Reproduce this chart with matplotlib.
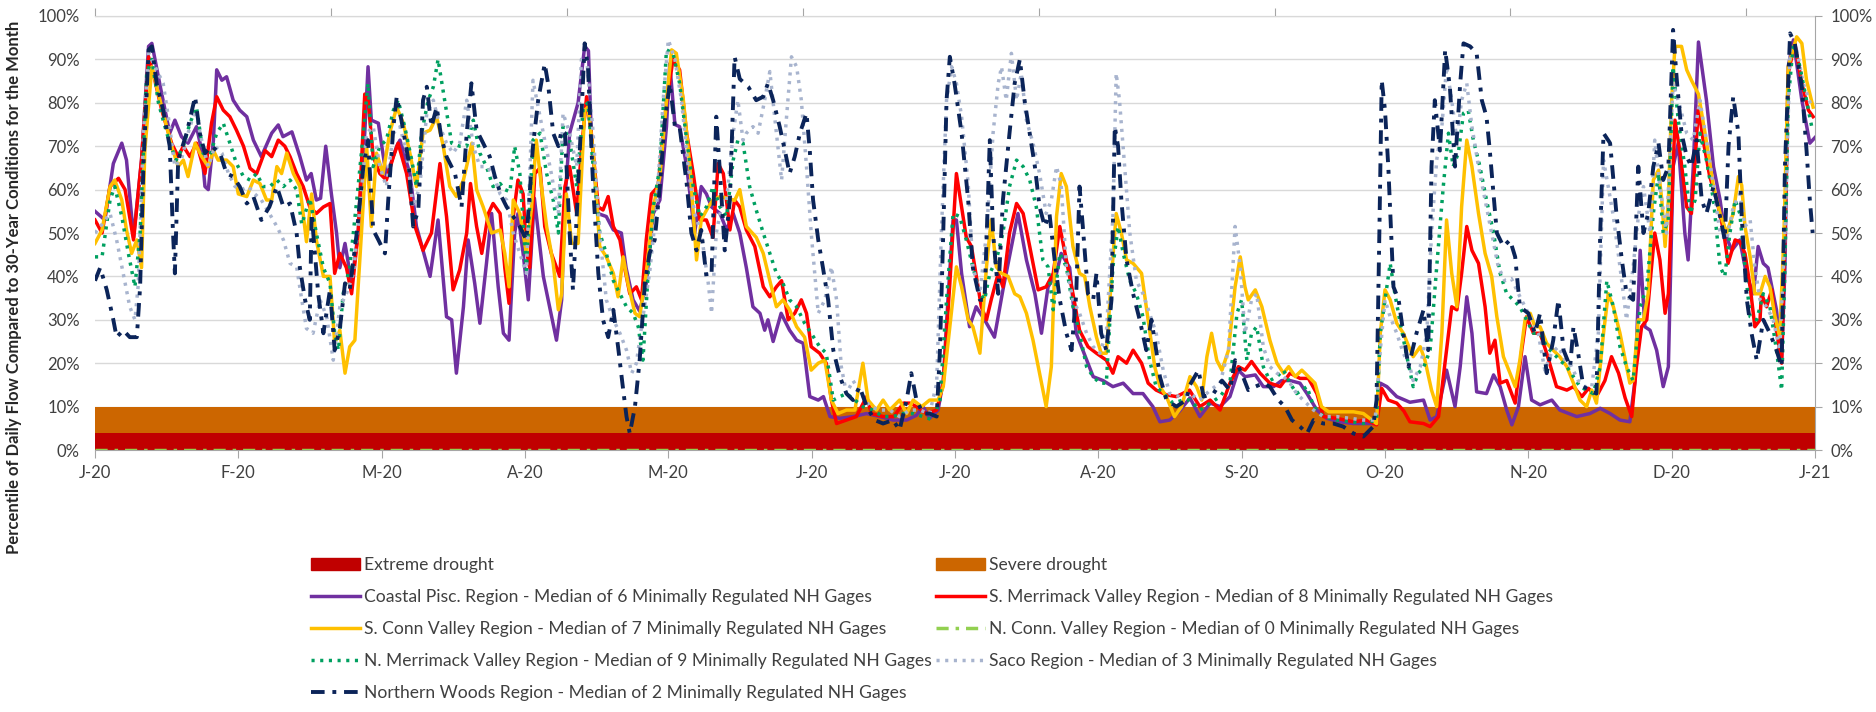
import numpy as np
import matplotlib.pyplot as plt
from matplotlib.lines import Line2D
from matplotlib.patches import Patch
from matplotlib.ticker import FuncFormatter

plt.rcParams['font.family'] = ['Lato', 'DejaVu Sans']

# x values are day of year (2020), y values are flow percentiles (%)
month_labels = ["J-20", "F-20", "M-20", "A-20", "M-20", "J-20", "J-20",
                "A-20", "S-20", "O-20", "N-20", "D-20", "J-21"]

extreme_top = 4
severe_top = 10

coastal_day = [0, 2.1, 3.9, 5.7, 6.7, 8.2, 9.9, 11.4, 12.1, 13.9, 15.9, 17, 18.4, 19.8, 21.6, 22.7, 23.4, 24.1, 25.2, 25.9, 27, 28, 29.4, 30.8, 32.3, 33.7, 35.4, 37.6, 39, 40, 41.9, 43.6, 45,
               46, 47.1, 48, 49.1, 50.3, 51.4, 52.1, 53.2, 54.6, 56, 57.4, 58.1, 58.8, 60.3, 62, 64.2, 64.9, 67, 68.4, 69.8, 71.3, 73, 74.8, 75.9, 76.9, 78.4, 79.4, 80.8, 81.9, 83.3, 84.4, 85.8, 86.9, 88.1, 89.3, 90, 91.1, 92.2,
               93.5, 95.4, 98.2, 99.3, 100, 101, 102.8, 104.2, 105, 105.6, 107, 108.8, 110.3, 112, 113, 114.5, 115.9, 117.3, 118.8, 120.2, 121.6, 122.3, 123.4, 124.4, 125.9, 127.6, 129, 130.1, 131.2, 133, 134.4, 135.8, 137.2, 138.6,
               140, 141.5, 142.5, 143.2, 144.3, 146, 147.8, 149.3, 150.7, 152.1, 153.9, 155, 156.4, 158.5, 161.3, 164.2, 167, 169.8, 172.7, 174.8, 176.2, 177.6, 179.4, 180.5, 181.5, 182.6, 183.3, 184.4,
               186.1, 187.5, 189.3, 191.4, 193.2, 196.4, 198.2, 200, 201.4, 202.8, 204.6, 205.6, 207.4, 208.8, 210.2, 212.4, 214.5, 216.6, 218.8, 220.9, 223, 225.1, 226.6, 228.7, 230.8,
               233, 235.1, 237.3, 239.4, 241.5, 243.3, 244.7, 246.9, 248.6, 250.8, 252.5, 254.3, 256.4, 257.9, 260, 262.1, 264.9, 267.8, 270.6, 272.4, 273.5, 274.9, 277, 279.8,
               282.7, 284.1, 285.5, 287.6, 289.4, 290.5, 291.9, 293, 294, 296.1, 297.6, 299, 300.4, 301.5, 302.9, 304.3, 305.7, 307.5, 310, 311.7, 315.3, 318.1, 320.3, 322.4, 324.5, 326.6,
               327.7, 328.8, 329.8, 330.9, 332.3, 333.7, 334.8, 335.8, 336.9, 338.3, 339, 340.1, 341.2, 342.9, 344.4, 345.8, 346.8, 348.3, 350, 351.5, 352.9, 353.9, 355, 356, 357.8, 358.9, 359.6, 360.3, 361.4, 363.2, 364.9, 366]
coastal_val = [55, 53, 66, 70.7, 66.8, 49, 66.8, 93, 93.7, 83.7, 73, 76, 72.2, 70.7, 74.5, 69, 60.7, 60, 71.4, 87.6, 85.2, 86, 80.6, 78.3, 76.8, 71.4, 67.6, 73, 74.9, 72.2, 73.3, 67.6, 62.2,
               63.7, 57.6, 58, 70, 59, 50, 42, 47.6, 38.4, 50, 73, 88.3, 76, 75.3, 63, 70, 71.4, 63.7, 51.5, 46, 40, 53, 30.7, 30, 17.7, 33, 48.4, 38.4, 29.2, 43, 54.5, 37.6, 26.9, 25.3, 50, 54.5, 45.3, 34.6,
               58, 40, 25.3, 34.6, 57.6, 73, 80, 93, 92, 73, 54.5, 53.8, 50.7, 50, 42, 34.6, 32, 38.4, 54.5, 57.6, 74.5, 89, 75, 74.5, 65.3, 50, 60.7, 59, 56, 54.5, 50.7, 54.5, 50, 42,
               33, 31.5, 27.6, 30, 25, 31.5, 27.6, 25.3, 24.6, 12.3, 11.5, 12.3, 7.7, 7.3, 7.7, 8.4, 7.7, 6.9, 6.9, 8, 10, 7.3, 9.2, 16, 34.6, 53, 53, 40.7,
               28.4, 33, 30, 26, 36.9, 54.5, 43.8, 36, 26.9, 37.6, 40.7, 45.3, 42, 26.9, 23, 16.9, 16, 14.6, 15.4, 13, 13, 10, 6.5, 6.9, 9,
               12, 7.7, 10.8, 10, 12.3, 18.4, 16.9, 17.3, 14.6, 14.6, 16, 16, 15.4, 13, 9.2, 7.3, 6.5, 6.1, 6.1, 6.1, 15.4, 14.6, 12.3, 11,
               11.5, 6.9, 7.7, 18.4, 10, 19.2, 35.3, 26.9, 13.4, 13, 17.3, 14.6, 9.2, 5.8, 10, 21.5, 11.5, 10.4, 11.5, 9.2, 7.7, 8.4, 9.6, 8.4, 6.9, 6.5,
               16, 46, 28.4, 27.6, 23, 14.6, 19.2, 65.3, 70.7, 50, 43.8, 65.3, 94, 80.6, 65.3, 57.6, 50, 46, 48.4, 40, 36, 46.9, 43, 42, 32.3, 20.7, 42, 88.3, 94.5, 80.6, 70.7, 72]

s_merr_day = [0, 1.5, 3.2, 5, 6.4, 8.2, 9.9, 11.4, 12.4, 14.2, 16.3, 17.7, 18.8, 20.2, 21.6, 23.4, 24.8, 25.9, 27.3, 28.7, 30.1, 31.6, 33, 34.4, 36.2, 37.6, 39, 40.4, 41.5, 42.9, 44.3, 45.7, 47.1, 48.6, 50,
              51, 52.1, 53.5, 54.6, 56, 57.4, 58.1, 59.2, 60.6, 62, 63.5, 64.5, 66.3, 68.1, 69.8, 71.6, 73.4, 74.8, 76.2, 77.6, 79.1, 79.9, 81.2, 82.3, 83.7, 84.7, 86.2, 87.2, 88.1, 89, 90, 91.1, 91.8, 92.5,
              93.6, 94.7, 95.7, 97.1, 98.9, 100, 101, 102.5, 103.5, 104.6, 105.6, 107.1, 108.1, 109.2, 110.3, 111.7, 112.7, 113.8, 115.2, 116.3, 117.3, 118.4, 119.8, 121.6, 123, 124.4, 125.9, 127.3, 128.7, 130.1, 131.5, 132.6, 133.7, 135.1, 136.1, 137.2,
              138.6, 140.4, 142.2, 143.6, 145, 146.1, 147.5, 148.9, 150.3, 151.4, 152.4, 154.2, 155.6, 156.7, 157.8, 159.9, 162, 164.2, 165.2, 167.7, 170, 172, 173.4, 174.8, 176.9, 179.1, 180.5, 181.9, 183.3, 184.4,
              185.4, 186.5, 187.9, 188.6, 189.7, 190.7, 192.2, 193.2, 194.6, 196.1, 197.5, 198.9, 200.7, 202.4, 203.9, 205.3, 206.7, 208.1, 209.5, 211.3, 213.1, 215.2, 216.6, 217.7, 219.5, 220.9, 222.7, 224.1, 225.8, 228, 230.1, 232.9,
              235.1, 237.3, 239.4, 241.5, 243.3, 244.7, 246.1, 247.9, 250, 252.2, 254.3, 256.4, 258.2, 260, 261.4, 264.2, 267.8, 270.6, 272.7, 273.8, 275.2, 277, 278.5, 279.8,
              282.7, 284.1, 285.9, 287.6, 288.7, 289.8, 290.8, 291.9, 293, 294.4, 295.8, 296.8, 297.9, 299, 300.4, 302.2, 303.6, 304.6, 306.1, 307.5, 308.9, 311, 313.2, 314.6, 316.4, 317.8, 319.5, 321.3, 322.7, 324.2, 325.6,
              327, 328, 329.1, 330.2, 331.2, 331.9, 333, 334.1, 334.8, 335.5, 336.2, 337.3, 338.7, 339.7, 340.5, 341.2, 342.2, 343.6, 345.1, 346.5, 347.5, 349, 350, 351.1, 352.2, 353.2, 354.3, 354.6, 355.7, 356.8, 357.8, 358.9, 359.6, 360.3, 361.7, 363.2, 364.6, 365.6]
s_merr_val = [53, 50, 60.7, 62.6, 60, 48.4, 66.8, 90.6, 86.8, 78.3, 70.7, 67.6, 70, 67.6, 70.7, 63.7, 75.3, 81.4, 78.3, 76.8, 73.7, 70, 64.9, 63.7, 69, 67.6, 71.4, 70, 67.6, 63.7, 60.7, 56, 54.5, 56, 56.8,
              40.7, 45.3, 42, 36, 50, 82, 80.6, 67.6, 63.7, 62.2, 67.6, 70.7, 63.7, 51.5, 46, 50, 66, 53.8, 36.9, 41.5, 50, 61.4, 51.5, 45.3, 54.5, 56.8, 54.5, 42, 33.8, 53.8, 62.2, 59, 46, 42,
              63.7, 65, 51.5, 45.3, 40, 60.7, 65.3, 54.5, 69, 81.4, 73, 56, 55.3, 58.4, 51.5, 48.4, 42, 36, 37.6, 34.6, 48.4, 59, 60.7, 80, 90, 87.6, 73, 63.7, 53, 53, 49, 66, 63.7, 50.7, 57.6, 56,
              50.7, 46.9, 37.6, 35.3, 37.6, 39, 30, 31.5, 34.6, 31.5, 23.8, 22.3, 20, 11.5, 6.1, 6.9, 7.7, 12.3, 8.4, 7.7, 7.7, 10.8, 10.8, 10, 8.4, 9.2, 15.4, 38.4, 63.7, 56,
              49, 46.9, 37.6, 33, 30, 34.6, 40.7, 37.6, 50, 56.8, 54.5, 46.9, 36.9, 37.6, 40.7, 51.5, 43.8, 36, 27.6, 23.8, 22.3, 20.7, 17.7, 21.5, 20, 23, 20, 15.4, 13.8, 12.7, 12.3, 13.8,
              10, 11.5, 9.2, 15.4, 19.2, 18.4, 20.4, 17.7, 15.4, 14.6, 17.7, 16.5, 16.5, 13, 7.7, 7.3, 6.5, 6.9, 5.8, 14.2, 11.5, 10.8, 9, 6.5,
              6.1, 5.4, 7.7, 23, 33, 32.3, 40.7, 51.5, 46, 43, 33, 22.3, 25.3, 15.4, 16, 10.8, 23, 30.7, 26.9, 26.9, 22.3, 14.6, 13.8, 14.6, 12.3, 14.2, 12.3, 16, 21.5, 17.7, 12,
              7.7, 19.2, 28.4, 30, 42, 50, 43.8, 31.5, 36, 56, 76, 68.4, 56, 54.5, 66.8, 79, 71.4, 63, 57.6, 50.7, 43, 48.4, 48, 45.3, 37.6, 28.4, 30, 36, 33, 36.9, 27.6, 20, 50, 86.8, 93.7, 84.5, 78.3, 76.8]

s_conn_day = [0, 1.5, 3.2, 4.2, 5.7, 6.7, 7.8, 8.9, 9.9, 10.6, 12.1, 13.5, 14.9, 16.3, 17.7, 18.8, 19.8, 21.3, 22.7, 24.1, 25.2, 26.2, 28, 29.4, 30.5, 32.3, 33.7, 35.1, 36.5, 37.6, 38.7, 39.7, 40.8, 42.2, 43.6, 45,
              46.1, 47.1, 48.6, 50, 51, 52.1, 53.2, 54.2, 55.3, 56.7, 57.8, 58.8, 59.9, 61.3, 62.7, 64.2, 65.6, 67, 68.4, 69.8, 71.3, 72.7, 74.1, 75.5, 76.9, 78.4, 80.2, 81.2, 82.6, 84.4, 86.2, 87.2, 88.1, 89, 90.4, 91.8,
              92.9, 93.9, 95, 96.1, 97.5, 98.6, 99.3, 100.3, 101.4, 102.8, 104.2, 104.9, 106, 107.4, 108.8, 110.3, 111.3, 112.4, 113.4, 114.9, 115.9, 117.3, 118.8, 120.2, 121.6, 122.7, 123.7, 125.2, 126.6, 128, 129, 130.5, 131.5, 133, 134.7, 136.1, 137.2,
              138.6, 140.7, 142.2, 143.6, 145, 146.4, 147.8, 149.3, 151, 152.4, 153.9, 155.3, 156.7, 158.1, 159.9, 161.7, 163.4, 164.5, 166.3, 167.7, 169.1, 171.2, 172.7, 174.1, 175.9, 177.6, 179.4, 180.5, 181.9, 183.3, 184.4, 185.8,
              186.8, 188.3, 189.7, 190.7, 191.8, 192.9, 194.3, 195.7, 196.8, 198.2, 199.6, 201, 202.4, 203.5, 204.6, 205.6, 206.7, 208.1, 209.5, 210.6, 211.7, 213.1, 214.1, 215.2, 216.3, 217.3, 218.4, 219.5, 220.9, 222.7, 224.1, 225.5, 226.6, 228, 229.7, 231.2,
              233, 234.4, 235.5, 236.6, 237.6, 238.7, 239.8, 241.2, 242.6, 243.7, 244.7, 245.4, 246.9, 248.3, 250, 251.5, 252.9, 254, 255.4, 256.8, 258.2, 259.6, 261, 262.5, 264.9, 267.8, 269.9, 271.7, 272.7, 273.5, 274.5, 275.6, 277, 278.4,
              279.5, 280.5, 282, 283, 284.4, 285.5, 286.6, 287.6, 288.7, 289.8, 290.8, 291.9, 293, 294.4, 295.8, 297.2, 298.3, 299.7, 301.1, 302.2, 303.2, 304.3, 305.4, 306.4, 307.5, 308.9, 310.3, 311.7, 313.2, 314.6, 316, 317.4, 318.5, 319.5, 321, 322, 323.1, 324.5, 326.6,
              327.3, 328.4, 329.5, 330.5, 331.6, 332.7, 333.4, 334.1, 334.8, 335.5, 336.2, 337.6, 338.7, 339.7, 341.2, 342.6, 344.4, 345.8, 347.2, 348.6, 349.7, 350.4, 351.1, 352.2, 353.2, 354.3, 355.4, 356.4, 357.5, 358.5, 359.4, 360.3, 362.1, 363.2, 364.2, 365.6]
s_conn_val = [47.6, 50.7, 60.7, 62.2, 57.6, 50.7, 45.3, 48.4, 42, 69, 88.3, 82, 76, 70, 65.3, 66.8, 63, 70.7, 67.6, 65.3, 69, 66.8, 66.8, 65.3, 59, 58.4, 62.2, 61.4, 57.6, 57.6, 65.3, 63.7, 68.4, 63.7, 60.7, 48,
              59, 48.4, 40, 40, 24.6, 27.6, 17.7, 23.8, 25.3, 50, 70, 51.5, 68.4, 63.7, 73, 79, 75.3, 68.4, 60.7, 73, 73.7, 76.8, 70, 60.7, 58.4, 62.2, 70.7, 60, 56, 50, 50.7, 45.3, 37.6, 57.6, 54.5, 45.3,
              56, 71.4, 60.7, 51.5, 43, 32.3, 36, 59, 47.6, 47.6, 78.3, 79, 69, 46.9, 44.5, 40.7, 35.3, 44.5, 38.4, 31.5, 30.7, 40.7, 56, 63, 80.6, 92.2, 91.4, 80.6, 65.3, 43.8, 53, 56, 57.6, 58.4, 58, 57.5, 60,
              51.5, 49, 45.3, 39, 33, 34.6, 32.3, 28.4, 26, 18.4, 20, 20.7, 11.5, 8.4, 9.2, 9.2, 20, 11.5, 9.2, 11.5, 9.2, 11.5, 8.4, 11.5, 10, 11.5, 11.5, 14.6, 28.4, 42.2, 37.6, 30,
              28.4, 22.3, 42.2, 53, 42.2, 40.7, 40, 36, 35.3, 31.5, 25.3, 17.7, 10, 19.2, 53.8, 63.7, 60.7, 46.9, 40.7, 40, 33, 26, 22.3, 22.3, 40, 54.5, 50, 43.8, 43, 40.7, 30, 19.2, 14.6, 12.3, 7.7, 10,
              16.9, 14.6, 11.5, 21.5, 26.9, 20.7, 18.4, 23, 37.6, 44.5, 37.6, 34.6, 36.9, 33, 25.3, 20, 17.7, 19.2, 16.9, 18.4, 16.9, 15.4, 10, 8.8, 8.8, 8.8, 8.4, 6.9, 6.1, 26.9, 36.9, 34.6, 29.2, 26.9,
              24, 21.5, 23.8, 20.7, 13.8, 10, 26.9, 53, 40.7, 33, 56, 71.4, 65.3, 54.5, 45.3, 40, 30.7, 21.5, 17.7, 14.6, 20.7, 30, 31.5, 28.4, 28.4, 24.6, 23, 21.5, 19.2, 15.4, 11.5, 10, 13.8, 10.8, 26.9, 36, 33, 26.9, 15.4,
              16, 30, 30, 36, 62.2, 64.5, 57.6, 46.9, 57.6, 80.6, 93, 93, 87.6, 85.2, 82, 73, 60.7, 54.5, 50, 54.5, 63, 61, 51.5, 44.5, 36, 36, 40, 37.6, 30.7, 26, 50, 88.3, 95.2, 93.7, 85.2, 79]

n_conn_day = [0, 366]
n_conn_val = [0, 0]

n_merr_day = [0, 1.5, 3.2, 4.2, 5.7, 7.1, 8.5, 9.6, 11, 12.1, 13.5, 14.5, 15.9, 17.3, 18.8, 20.2, 21.6, 23, 24.5, 25.9, 27.3, 28.7, 30.1, 31.6, 33, 34.4, 35.8, 37.2, 38.7, 40.1, 41.5, 42.9, 44,
              45.7, 47.1, 48.6, 50, 51, 51.8, 52.8, 54.2, 55.7, 57.1, 58.1, 59.2, 60.6, 62, 63.5, 64.5, 65.9, 67.4, 68.4, 69.5, 70.9, 72, 73, 74.4, 75.9, 77.6, 79.1, 80.5, 81.9, 83.3, 84.7, 86.2, 87.2, 88.3, 89.3, 90.4, 91.8,
              93.2, 94.7, 96.1, 97.5, 98.6, 99.6, 101, 102.5, 103.9, 104.9, 106, 107.4, 108.8, 110.3, 111.7, 113.1, 114.5, 115.6, 116.6, 117.7, 118.8, 120.2, 121.6, 123, 124.4, 125.9, 127.3, 128.7, 130.1, 131.5, 133, 134.4, 135.8, 136.8, 137.9, 139.3,
              140.7, 142.2, 143.6, 145, 146.4, 147.8, 149.3, 151, 152.4, 154.2, 155.6, 157.1, 158.5, 159.9, 161.7, 163.4, 165.5, 167.7, 169.8, 171.9, 174.1, 176.2, 178.3, 179.8, 181.2, 182.6, 184,
              185.4, 186.8, 188.3, 189.3, 190.4, 191.8, 193.2, 194.6, 196.1, 197.5, 198.9, 200.3, 201.7, 202.8, 203.9, 205.3, 206.7, 208.1, 209.5, 211, 212.4, 213.8, 215.2, 216.6, 217.7, 218.8, 220.2, 221.6, 223, 224.4, 225.8, 227.3, 229.4, 231.5,
              233, 235.1, 237.3, 239.4, 241.5, 243, 244, 245.1, 246.1, 247.2, 248.6, 250, 251.5, 252.9, 254.3, 255.7, 257.9, 259.3, 261.4, 264.2, 267.1, 269.9, 272.7, 273.5, 274.5, 275.6, 276.6, 277.7,
              279.1, 280.5, 281.6, 282.7, 284.1, 285.5, 286.9, 288, 289, 290.1, 291.2, 292.2, 293.3, 294.7, 296.1, 297.6, 299, 300.4, 301.8, 303.2, 304.6, 306.1, 307.5, 308.9, 310.3, 311.7, 313.2, 314.6, 316, 317.4, 318.8, 320.3, 321.7, 323.1, 324.5, 325.9,
              327.3, 328.8, 330.2, 331.6, 332.7, 333.7, 334.8, 335.8, 336.9, 338.3, 339.4, 340.5, 341.5, 342.9, 344.4, 345.8, 346.8, 347.9, 349, 350, 351.1, 352.2, 353.6, 355, 356.4, 357.8, 358.9, 359.6, 360.3, 361.4, 362.8, 364.2, 365.3]
n_merr_val = [44.5, 44.5, 57.6, 60.7, 53.8, 45.3, 37.6, 50, 86.8, 90, 80, 76, 70.7, 66.8, 70, 75.3, 79, 68.4, 68, 73, 75.3, 70.7, 66, 63, 62.2, 63.7, 60.7, 60.7, 62.2, 60.7, 62.2, 60, 52,
              58, 50, 42, 38.4, 26.9, 23, 36, 42, 57.6, 73, 84.5, 65.3, 70, 71.4, 78.3, 80.6, 74.5, 66.8, 60.7, 73, 80.6, 83.7, 90, 80.6, 70.7, 70, 70, 76, 68.4, 65.3, 60.7, 61.4, 60, 59.5, 70, 63.7, 41.5,
              71.4, 73, 63.7, 57.6, 50, 74.5, 71.4, 60.7, 79, 80, 65.3, 50, 45.3, 39, 36, 33, 31.5, 28.4, 20.7, 40.7, 56, 65.3, 92.2, 91.4, 84.5, 71.4, 60.7, 53.8, 56, 60.7, 56, 53.8, 66.8, 71.4, 70.7, 60.7,
              55.3, 50, 45.3, 40.7, 38.4, 34.6, 33, 29.2, 26.9, 23.8, 22.3, 11.5, 12.3, 13, 11.5, 10, 9.2, 7.7, 7.7, 8.4, 8.4, 7.7, 6.9, 11.5, 34.6, 54.5, 53.8,
              48.4, 42.2, 36, 34.6, 40.7, 43.8, 50, 60.7, 66.8, 65.3, 62.2, 56, 43.8, 42.2, 32.3, 45.3, 42.2, 33, 26.9, 19.2, 16.9, 15.4, 15.4, 42.2, 51.5, 45.3, 39, 36, 30.7, 20.7, 14.6, 13, 10.8, 11.5,
              11.5, 9.2, 10.8, 12.3, 15.4, 31.5, 34.6, 20.7, 26.9, 28.4, 19.2, 16, 16.9, 18.4, 15.4, 13, 14.6, 10, 7.7, 6.9, 6.5, 6.1, 6.9, 26.9, 34.6, 43, 36, 29.5,
              21.8, 14.6, 17.7, 19, 23, 42.2, 60.7, 73, 65.3, 68.4, 77.6, 78.3, 71.4, 65.3, 57.6, 50, 40.7, 36, 34.6, 33, 30, 26.9, 26.9, 23.8, 22.3, 20.7, 19.2, 16.9, 14.6, 13.8, 13, 19.2, 39, 33, 23.8, 19.2,
              16, 33, 37.6, 54.5, 63.7, 50, 53, 88.3, 76, 65.3, 54.5, 57.6, 73, 66.8, 57.6, 42.2, 40, 50, 57.6, 54.5, 42.2, 30.7, 30, 36, 33, 23, 13.8, 42.2, 80.6, 93.7, 88.3, 80.6, 74.5]

saco_day = [0, 1.5, 3.2, 4.6, 6, 7.4, 8.5, 9.2, 10.3, 11.4, 12.8, 14.5, 15.6, 17, 18.4, 19.8, 21.3, 22.7, 24.1, 25.5, 27, 28.4, 29.8, 31.2, 32.6, 34, 35.4, 37.1, 38.7, 40.1, 41.5, 42.9, 44, 45,
            46.4, 47.9, 49.3, 50.7, 52.1, 53.5, 55, 56.4, 57.8, 59.2, 60.6, 62, 63.5, 64.9, 66.3, 67.7, 69.1, 70.6, 72, 73.4, 74.8, 76.2, 77.6, 79.1, 80.5, 81.9, 83.3, 84.7, 86.2, 87.6, 89, 90.4, 91.8,
            93.2, 94.3, 95.7, 97.1, 98.6, 99.6, 101, 102.5, 103.5, 104.6, 106, 107.4, 108.8, 110.3, 111.7, 113.1, 114.2, 115.2, 116.6, 118, 119.5, 120.9, 122, 123.4, 124.8, 126.2, 127.6, 129, 130.5, 131.2, 132.2, 133.3, 134.4, 135.8, 136.8, 137.9,
            138.6, 140, 141.1, 142.5, 143.6, 145, 146.1, 147.1, 148.2, 149.3, 150.3, 151.4, 152.4, 153.9, 155.3, 156.7, 157.8, 158.8, 159.9, 161.3, 163, 164.9, 167, 169.1, 171.2, 173.4, 175.5, 177.6, 179.1, 180.1, 181.2, 182.3, 183.3, 184.4, 185.8,
            186.8, 188.3, 189.7, 191.1, 192.2, 192.9, 193.9, 195, 196.1, 197.1, 198.2, 199.6, 201, 202.4, 203.5, 204.6, 205.6, 206.7, 208.1, 209.5, 211, 212.4, 213.8, 215.2, 216.6, 217.3, 218, 219.1, 220.2, 221.6, 223, 224.4, 225.8, 227.3, 228.7, 230.8,
            232.9, 235.1, 237.3, 239.4, 241.2, 242.6, 243.7, 244.7, 246.1, 247.2, 248.6, 250, 251.5, 252.9, 254.3, 255.7, 257.1, 259.3, 261.4, 264.2, 267.1, 269.9, 272.4, 273.5, 274.5, 275.6, 277, 278.4, 279.8,
            280.5, 282, 283.4, 284.4, 285.5, 286.6, 287.6, 288.7, 289.8, 290.8, 291.9, 293, 294.4, 295.8, 297.2, 298.6, 300, 301.4, 302.9, 304.3, 305.7, 307.1, 308.5, 309.9, 311.4, 312.8, 314.2, 315.6, 317, 318.5, 319.9, 321, 322, 323.1, 324.5, 325.9,
            327.3, 328.4, 329.5, 330.9, 331.9, 333, 334.4, 335.8, 337.3, 338.7, 340.1, 341.5, 342.9, 344.4, 345.8, 347.2, 348.6, 350, 351.1, 352.2, 353.2, 354.3, 355.7, 357.1, 358.5, 359.6, 360.7, 362.1, 363.5, 365.3]
saco_val = [50, 52, 54.5, 48.4, 40.7, 33, 30, 38, 73, 91.4, 88.3, 84.5, 76.8, 65.3, 67, 73, 78.3, 71.4, 65.3, 70, 68.4, 63.7, 60.7, 60, 60.7, 59, 57.6, 54.5, 51.5, 48.4, 43, 42.2, 34.6, 28,
            26.9, 34.6, 30.7, 20.7, 33, 36, 40.7, 56, 73, 74.5, 65.3, 60.7, 73, 74.5, 68.4, 56, 60.7, 77.6, 80.6, 74.5, 70.7, 68.4, 70.7, 80.6, 70, 65.3, 65.3, 63.7, 59, 57.6, 50, 45.3, 40.7,
            85.2, 79, 71.4, 63.7, 54.5, 77.6, 73, 65.3, 90, 90.6, 73, 50, 34.6, 30, 26.9, 23, 17.7, 20, 30.7, 40.7, 56, 80.6, 94.5, 90, 80.6, 65.3, 54.5, 50, 38.4, 31.5, 50, 56, 57.6, 73, 80.6, 71.4,
            73, 74.5, 73, 80.6, 87.2, 73, 62.2, 76, 90.6, 88.3, 80.6, 65.3, 50, 31.5, 34.6, 42.2, 34.6, 19.2, 13, 16, 13, 10, 9.2, 9.2, 7.7, 9.2, 9.2, 8.4, 15.4, 50, 80.6, 88.3, 84.5, 76.8, 61.4,
            42.2, 36, 50, 73, 84.5, 88.3, 80.6, 91.4, 80.6, 86.8, 76, 70.7, 63.7, 54.5, 57.6, 65.3, 61, 42.2, 34.6, 31.5, 26.9, 23.8, 22.3, 26.9, 53.8, 86.8, 80.6, 65.3, 50, 39, 36, 31.5, 26.9, 18.4, 13, 12.3,
            13, 11.5, 13.8, 15.4, 23, 51.5, 42.2, 26.9, 34.6, 36, 23.8, 19.2, 17.7, 16.9, 15.4, 13, 11.5, 9.2, 7.7, 7.7, 7.3, 6.9, 6.9, 23, 34.6, 30.7, 26.9, 22.3, 19.2,
            16, 19.2, 26.9, 50, 66.8, 74.5, 88.3, 80.6, 71.4, 80.6, 84.5, 74.5, 65.3, 57.6, 50, 42.2, 39, 39.5, 36, 33, 30, 26.9, 18.4, 22.3, 23.8, 20.7, 19.2, 16, 14.6, 14.6, 26.9, 66.8, 60.7, 53.8, 42.2, 30,
            42.2, 53.8, 60.7, 50, 71.4, 60.7, 50, 84.5, 79, 73, 71.4, 80.6, 71.4, 60.7, 50, 48.4, 56, 59, 51.5, 53, 42.2, 34.6, 33, 30, 23, 50, 92.2, 92.2, 84.5, 79]

n_woods_day = [0, 1.1, 2.5, 3.9, 4.6, 6, 7.4, 8.9, 9.6, 10.3, 11.4, 12.1, 13.1, 14.5, 15.9, 16.6, 17, 17.7, 19.5, 21.3, 22.3, 23.4, 24.8, 26.6, 28, 29.4, 30.8, 32.3, 33.7, 35.4, 37.1, 38.7, 40.1, 41.5, 42.9, 43.6, 44.7, 45.7,
               46.1, 47.5, 48.6, 50, 51, 52.1, 53.2, 54.2, 55.7, 57.1, 58.1, 59.2, 60.3, 61.7, 62.4, 63.5, 64.2, 65.2, 66.7, 67.7, 68.8, 69.8, 70.6, 71.6, 72.7, 73.7, 74.8, 76.6, 78, 79.1, 80.1, 81.2, 82.6, 84, 85.1, 86.5, 87.6, 89, 90.4, 91.8,
               93.2, 94.3, 95.7, 96.4, 97.5, 98.6, 99.3, 100, 101, 101.7, 102.5, 103.5, 104.2, 104.9, 106, 107.1, 108.1, 109.2, 110.3, 111.3, 112.4, 113.1, 113.8, 114.9, 115.9, 117, 118, 119.1, 120.2, 121.2, 122.3, 123.4, 124.4, 125.9, 126.9, 128, 129, 130.1, 131.2, 132.2, 133, 134, 135.1, 136.1,
               137.2, 139, 140.7, 142.2, 143.2, 144.3, 145.7, 146.8, 147.8, 148.9, 150, 151.4, 152.1, 152.8, 153.9, 154.9, 156, 157.1, 158.5, 159.9, 161.3, 162.7, 164.2, 165.9, 167.7, 169.8, 171.2, 172.7, 173.7, 174.8, 176.2, 177.6, 179.1, 179.8, 180.5, 181.2, 181.9, 182.9, 184.4, 185.8,
               186.8, 188.3, 189.3, 190.4, 191.1, 192.2, 193.2, 194.6, 195.7, 196.8, 197.8, 198.9, 200, 201, 202.1, 203.1, 204.2, 205.3, 206.7, 207.8, 208.8, 209.5, 210.2, 211.3, 212.4, 213.1, 214.1, 215.2, 216.3, 217, 217.7, 218.4, 219.5, 220.9, 222.3, 223.7, 224.8, 225.8, 226.6, 228, 230.1, 232.2,
               233, 234.8, 235.9, 238, 239.8, 241.5, 242.6, 244, 245.4, 246.9, 248.6, 250, 251.8, 253.2, 254.7, 256.4, 257.9, 259.3, 261.4, 263.5, 265.6, 267.8, 269.9, 272, 272.7, 273.3, 273.8, 274.5, 275.2, 276.3, 277.4, 278.4, 279.5,
               281.2, 282.7, 283.7, 284.4, 285.1, 286.2, 287.3, 288.3, 289.4, 290.5, 291.2, 292.6, 294, 295.1, 296.1, 296.8, 298.3, 299.7, 301.1, 302.2, 303.2, 305, 306.4, 307.5, 308.9, 310.3, 311.4, 312.5, 313.9, 314.6, 315.6, 316.7, 318.1, 319.5, 320.3, 321, 322.4, 323.8, 324.9, 325.9,
               327.3, 328.4, 329.5, 330.5, 331.6, 332.7, 333.7, 334.8, 335.8, 336.6, 337.6, 338.7, 339.7, 340.8, 341.9, 342.9, 344.4, 345.8, 346.8, 347.6, 348.6, 349.7, 350.4, 351.5, 352.5, 353.6, 355, 356.4, 357.8, 358.9, 359.6, 360.7, 361.7, 363.2, 364.2, 364.9, 365.5]
n_woods_val = [39, 42, 36.9, 30, 26, 27.6, 26, 26, 37.6, 65.3, 92.2, 93, 84.5, 78.3, 70, 50, 40.7, 66.8, 73, 81.4, 73, 68.4, 70, 68.4, 63.7, 63, 60.7, 56.8, 58.4, 53, 56, 60.7, 56, 56.8, 50, 42, 34.6, 30,
               54.5, 36, 26.9, 36.9, 23, 28, 38.4, 36.9, 50, 65.3, 71.4, 50.7, 48.4, 45.3, 57.6, 74.5, 81.4, 76, 66.8, 51.5, 55.3, 80.6, 83.7, 74.5, 79, 72, 67.6, 63.7, 56, 73, 84.5, 73.7, 70.7, 67.6, 63, 58.4, 56, 53.8, 51.5, 48.4,
               70, 80.6, 89, 84.5, 73, 70, 73.7, 73, 50, 36.9, 53.8, 76.8, 93.7, 88.3, 60.7, 40.7, 30, 26, 32.3, 23.8, 13.8, 7.7, 3.8, 10, 20.7, 38.4, 45.3, 48.4, 60.7, 75.3, 84.5, 74.5, 74.5, 61.4, 50, 46, 50.7, 40, 40.7, 76.8, 63.7, 46, 57.6, 90.6,
               85.5, 83.7, 80.6, 81.4, 84.5, 80.6, 74.5, 69, 63.7, 67.6, 73, 77.6, 69, 57.6, 48.4, 42, 34.6, 23, 16.9, 13, 11.5, 14.6, 10, 6.9, 6.1, 6.9, 4.6, 11.5, 17.7, 11.5, 8.4, 8.4, 7.7, 23, 50, 80.6, 90.6, 84.5, 73, 57.6,
               42, 34.6, 34.6, 71.4, 50, 36, 57.6, 73, 84.5, 90, 80.6, 73, 65.3, 56, 51.5, 54.5, 43.8, 34.6, 26.9, 23, 36, 60.7, 51.5, 36, 34.6, 40.7, 26.9, 23, 34.6, 74.5, 70, 57.6, 43.8, 36, 30, 23, 30, 23, 16.9, 11.5, 10, 11.5,
               15, 18.4, 12.3, 13, 16, 13.8, 20.7, 17.7, 13.8, 14.6, 15.4, 14.6, 11.5, 10, 6.9, 5.4, 3.8, 6.9, 6.1, 6.1, 5.4, 3.8, 3.1, 5.4, 11.5, 50, 85.2, 78.3, 65.3, 37.6, 34.6, 26.9, 19.2,
               26.9, 32.3, 23, 65.3, 80.6, 69, 92.2, 83.7, 65.3, 84.5, 93.7, 93, 91.4, 80.6, 76.8, 69, 50, 46.9, 48.4, 44.5, 33, 31.5, 26.9, 31.5, 17.7, 25.3, 34.6, 23, 19.2, 28.4, 22.3, 14.6, 13.8, 13, 50, 73, 70.7, 53.8, 43.8, 36,
               34.6, 65.3, 50, 54.5, 65.3, 70.7, 62.2, 65.3, 96.8, 85.2, 73, 67.6, 65.3, 71.4, 57.6, 54.5, 60.7, 53.8, 48.4, 70, 81.4, 73, 53.8, 34.6, 26.9, 20.7, 30, 26.9, 23, 19.2, 65.3, 96, 93.7, 83.7, 69, 57.6, 50]

fig = plt.figure(figsize=(18.76, 7.12), dpi=100)
ax = fig.add_axes([95 / 1876, 1 - 450 / 712, 1720 / 1876, 434 / 712])

# drought bands
ax.fill_between([0, 366], 0, extreme_top, color='#C00000', lw=0, zorder=2)
ax.fill_between([0, 366], extreme_top, severe_top, color='#CC6600', lw=0, zorder=2)

lw = 2.5
styles = [
    (coastal_day, coastal_val, dict(color='#7030A0', ls='-', lw=lw)),
    (s_merr_day, s_merr_val, dict(color='#FF0000', ls='-', lw=lw)),
    (s_conn_day, s_conn_val, dict(color='#FFC000', ls='-', lw=lw)),
    (n_conn_day, n_conn_val, dict(color='#92D050', ls=(0, (3.5, 2, 1, 2)), lw=lw)),
    (n_merr_day, n_merr_val, dict(color='#00A060', ls=(0, (0.9, 1.6)), lw=lw)),
    (saco_day, saco_val, dict(color='#A8B4CE', ls=(0, (0.9, 1.6)), lw=lw)),
    (n_woods_day, n_woods_val, dict(color='#0B2459', ls=(0, (3.5, 2, 1, 2)), lw=2.8)),
]
for d, v, st in styles:
    ax.plot(d, v, zorder=3, solid_joinstyle='round', **st)

ax.set_xlim(0, 366)
ax.set_ylim(0, 100)
ax.set_yticks(np.arange(0, 101, 10))
ax.yaxis.set_major_formatter(FuncFormatter(lambda v, p: f"{v:.0f}%"))
ax.set_xticks(np.arange(13) * 30.5)
ax.set_xticklabels(month_labels)
ax.grid(axis='y', color='#D9D9D9', lw=1, zorder=0)
ax.set_axisbelow(True)

for s in ['left', 'top']:
    ax.spines[s].set_visible(False)
ax.spines['bottom'].set_color('#A6A6A6')
ax.spines['right'].set_color('#A6A6A6')
ax.tick_params(axis='y', left=False, right=True, labelleft=True, labelright=True,
               length=5, color='#A6A6A6', labelsize=12, pad=6, labelcolor='#404040')
ax.tick_params(axis='x', length=6, color='#A6A6A6', labelsize=12, pad=5, labelcolor='#404040')

top = ax.secondary_xaxis('top')
top.set_xticks(np.arange(0, 366, 50.2))
top.tick_params(length=6, color='#A6A6A6', labeltop=False)
top.spines['top'].set_color('#A6A6A6')

fig.text(14 / 1876, 1 - 287 / 712, "Percentile of Daily Flow Compared to 30-Year Conditions for the Month",
         rotation=90, ha='center', va='center', fontsize=12, fontweight='bold', color='#262626')

def handle(st):
    return Line2D([], [], **st)

h = [Patch(color='#C00000'), handle(styles[0][2]), handle(styles[2][2]), handle(styles[4][2]), handle(styles[6][2])]
l = ["Extreme drought",
     "Coastal Pisc. Region - Median of 6 Minimally Regulated NH Gages",
     "S. Conn Valley Region - Median of 7 Minimally Regulated NH Gages",
     "N. Merrimack Valley Region - Median of 9 Minimally Regulated NH Gages",
     "Northern Woods Region - Median of 2 Minimally Regulated NH Gages"]
h2 = [Patch(color='#CC6600'), handle(styles[1][2]), handle(styles[3][2]), handle(styles[5][2])]
l2 = ["Severe drought",
      "S. Merrimack Valley Region - Median of 8 Minimally Regulated NH Gages",
      "N. Conn. Valley Region - Median of 0 Minimally Regulated NH Gages",
      "Saco Region - Median of 3 Minimally Regulated NH Gages"]

leg_kw = dict(loc='upper left', frameon=False, fontsize=12.6, handlelength=2.8, handletextpad=0.22,
              labelspacing=0.92, borderpad=0, borderaxespad=0, labelcolor='#404040')
fig.legend(h, l, bbox_to_anchor=(311 / 1876, 1 - 557 / 712), **leg_kw)
fig.legend(h2, l2, bbox_to_anchor=(936 / 1876, 1 - 557 / 712), **leg_kw)

fig.savefig('out.png', dpi=100)
